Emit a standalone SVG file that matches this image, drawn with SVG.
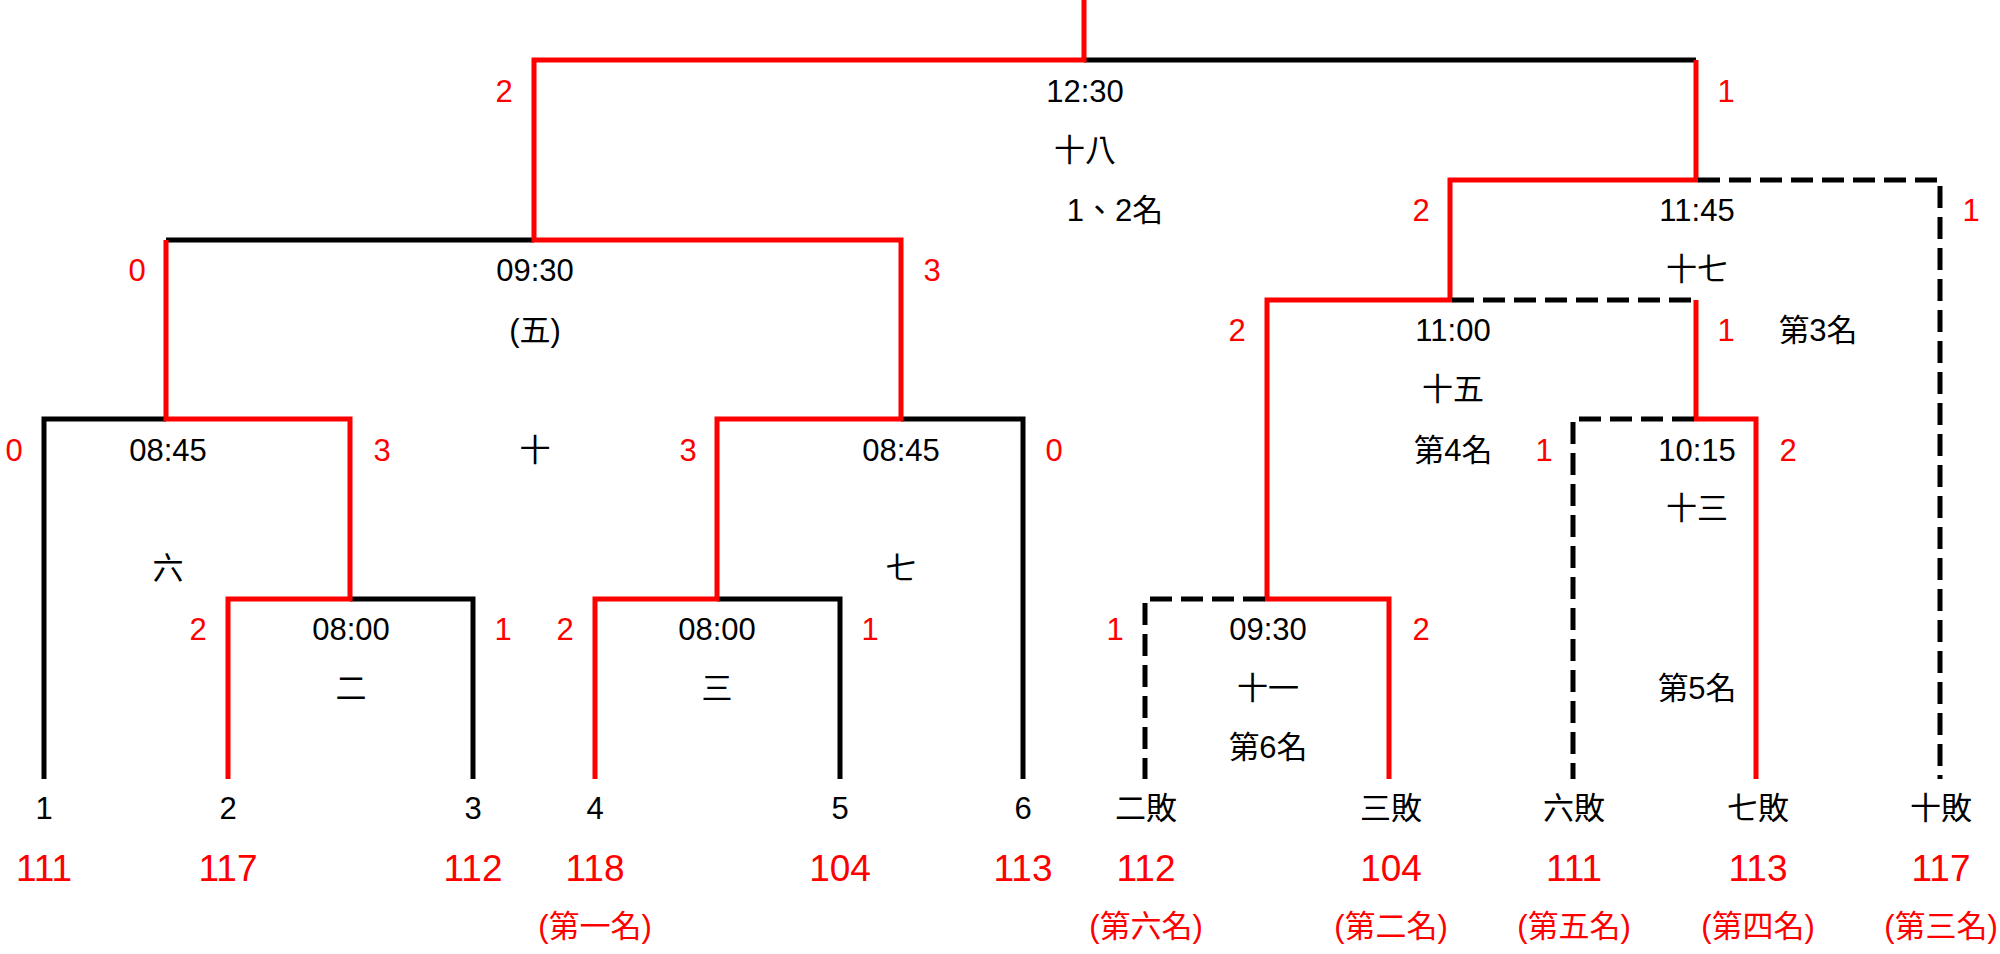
<svg xmlns="http://www.w3.org/2000/svg" width="2000" height="954" viewBox="0 0 2000 954">
<style>
text{font-family:"Liberation Sans","Noto Sans CJK TC",sans-serif;text-anchor:middle;font-size:31px;fill:#000}
.r{fill:#ff0000}
.big{font-size:37px;fill:#ff0000}
.rk{font-size:31px;fill:#ff0000}
.lr{fill:none;stroke:#ff0000;stroke-width:5;stroke-linecap:butt;stroke-linejoin:miter}
.lb{fill:none;stroke:#000;stroke-width:5;stroke-linecap:butt;stroke-linejoin:miter}
.ld{fill:none;stroke:#000;stroke-width:5;stroke-dasharray:22 9}
</style>
<rect width="2000" height="954" fill="#fff"/>
<g id="connectors">
<path class="lb" d="M1084 60H1696"/>
<path class="lb" d="M166 240H534"/>
<path class="lb" d="M44 779V419H166"/>
<path class="lb" d="M901 419H1023V779"/>
<path class="lb" d="M350 599H473V779"/>
<path class="lb" d="M717 599H840V779"/>
<path class="lr" d="M1084 0V60H534V240H901V419H717V599H595V779"/>
<path class="lr" d="M166 240V419H350V599H228V779"/>
<path class="lr" d="M1696 60V180H1450V300H1267V599H1389V779"/>
<path class="lr" d="M1696 300V419H1756V779"/>
<path class="ld" d="M1698 180H1940V779"/>
<path class="ld" d="M1452 300H1694"/>
<path class="ld" d="M1694 419H1573V779"/>
<path class="ld" d="M1265 599H1145V779"/>
</g>
<g id="match-18"><text x="1085" y="102">12:30</text><text x="1085" y="161">十八</text><text x="1115" y="221">1、2名</text><text class="r" x="504" y="102">2</text><text class="r" x="1726" y="102">1</text></g>
<g id="match-5"><text x="535" y="281">09:30</text><text x="535" y="341">(五)</text><text class="r" x="137" y="281">0</text><text class="r" x="932" y="281">3</text></g>
<g id="match-10"><text x="535" y="461">十</text></g>
<g id="match-6"><text x="168" y="461">08:45</text><text x="168" y="579">六</text><text class="r" x="14" y="461">0</text><text class="r" x="382" y="461">3</text></g>
<g id="match-7"><text x="901" y="461">08:45</text><text x="901" y="579">七</text><text class="r" x="688" y="461">3</text><text class="r" x="1054" y="461">0</text></g>
<g id="match-2"><text x="351" y="640">08:00</text><text x="351" y="699">二</text><text class="r" x="198" y="640">2</text><text class="r" x="503" y="640">1</text></g>
<g id="match-3"><text x="717" y="640">08:00</text><text x="717" y="699">三</text><text class="r" x="565" y="640">2</text><text class="r" x="870" y="640">1</text></g>
<g id="match-17"><text x="1697" y="221">11:45</text><text x="1697" y="280">十七</text><text x="1818" y="341">第3名</text><text class="r" x="1421" y="221">2</text><text class="r" x="1971" y="221">1</text></g>
<g id="match-15"><text x="1453" y="341">11:00</text><text x="1453" y="400">十五</text><text x="1453" y="461">第4名</text><text class="r" x="1237" y="341">2</text><text class="r" x="1726" y="341">1</text></g>
<g id="match-13"><text x="1697" y="461">10:15</text><text x="1697" y="519">十三</text><text x="1697" y="699">第5名</text><text class="r" x="1544" y="461">1</text><text class="r" x="1788" y="461">2</text></g>
<g id="match-11"><text x="1268" y="640">09:30</text><text x="1268" y="699">十一</text><text x="1268" y="758">第6名</text><text class="r" x="1115" y="640">1</text><text class="r" x="1421" y="640">2</text></g>
<g id="team-1"><text x="44" y="819">1</text><text class="big" x="44" y="881">111</text></g>
<g id="team-2"><text x="228" y="819">2</text><text class="big" x="228" y="881">117</text></g>
<g id="team-3"><text x="473" y="819">3</text><text class="big" x="473" y="881">112</text></g>
<g id="team-4"><text x="595" y="819">4</text><text class="big" x="595" y="881">118</text><text class="rk" x="595" y="937">(第一名)</text></g>
<g id="team-5"><text x="840" y="819">5</text><text class="big" x="840" y="881">104</text></g>
<g id="team-6"><text x="1023" y="819">6</text><text class="big" x="1023" y="881">113</text></g>
<g id="loser-2"><text x="1146" y="819">二敗</text><text class="big" x="1146" y="881">112</text><text class="rk" x="1146" y="937">(第六名)</text></g>
<g id="loser-3"><text x="1391" y="819">三敗</text><text class="big" x="1391" y="881">104</text><text class="rk" x="1391" y="937">(第二名)</text></g>
<g id="loser-6"><text x="1574" y="819">六敗</text><text class="big" x="1574" y="881">111</text><text class="rk" x="1574" y="937">(第五名)</text></g>
<g id="loser-7"><text x="1758" y="819">七敗</text><text class="big" x="1758" y="881">113</text><text class="rk" x="1758" y="937">(第四名)</text></g>
<g id="loser-10"><text x="1941" y="819">十敗</text><text class="big" x="1941" y="881">117</text><text class="rk" x="1941" y="937">(第三名)</text></g>
</svg>
